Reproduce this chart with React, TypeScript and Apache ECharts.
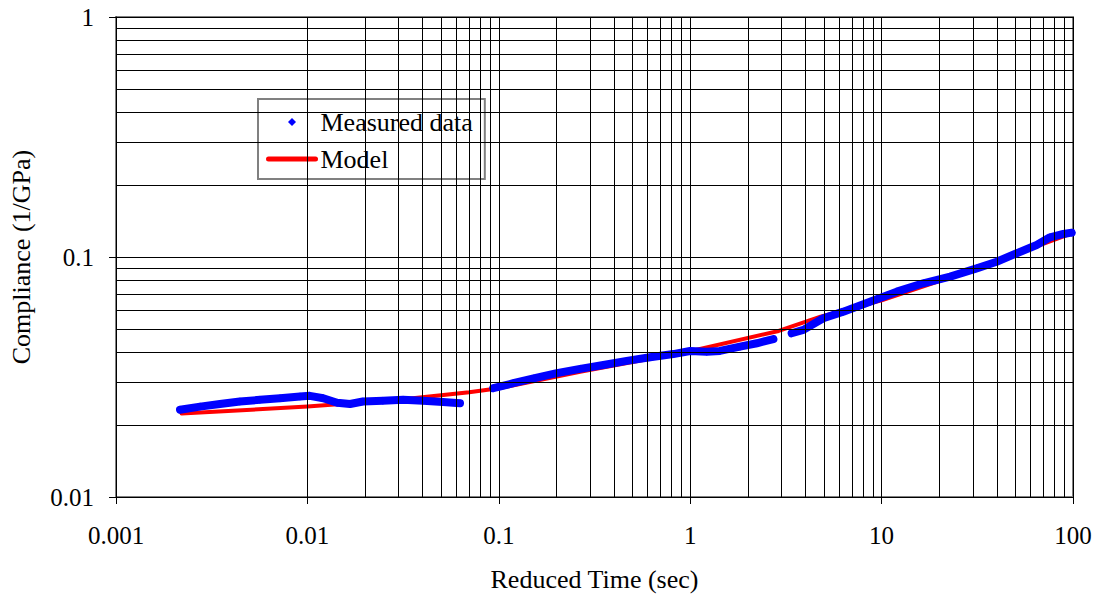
import React, { useEffect, useRef } from "react";
import * as echarts from "echarts";

// ---- data ----
const xTickLabels = ["0.001", "0.01", "0.1", "1", "10", "100"];
const yTickLabels = ["0.01", "0.1", "1"];

const measuredSeg1X = [0.00216, 0.00275, 0.00349, 0.00444, 0.00565, 0.00719, 0.00915, 0.0103, 0.0121, 0.0143, 0.0167, 0.0195, 0.0248, 0.0316, 0.0402, 0.0511, 0.0627];
const measuredSeg1Y = [0.0231, 0.0238, 0.0244, 0.025, 0.0254, 0.0258, 0.0262, 0.0264, 0.0258, 0.0247, 0.0244, 0.025, 0.0252, 0.0254, 0.0252, 0.0249, 0.0246];

const measuredSeg2X = [0.0936, 0.119, 0.152, 0.201, 0.266, 0.352, 0.466, 0.617, 0.816, 0.998, 1.22, 1.43, 1.82, 2.23, 2.72];
const measuredSeg2Y = [0.0284, 0.0298, 0.0312, 0.0328, 0.0342, 0.0355, 0.0369, 0.0382, 0.0394, 0.0406, 0.0403, 0.0406, 0.0423, 0.0437, 0.0455];

const measuredSeg3X = [3.39, 3.9, 4.96, 6.31, 8.7, 12.0, 16.5, 22.8, 31.4, 39.9, 50.8, 64.6, 75.8, 89.0, 98.4];
const measuredSeg3Y = [0.0481, 0.0497, 0.0556, 0.0592, 0.0651, 0.0717, 0.0777, 0.0828, 0.0897, 0.0956, 0.1036, 0.1122, 0.1208, 0.1247, 0.1263];

const modelX = [0.0022, 0.01, 0.03, 0.07, 0.1, 0.27, 1, 2.9, 4.8, 10, 30, 100];
const modelY = [0.0223, 0.0238, 0.0254, 0.0273, 0.0284, 0.0333, 0.0405, 0.0492, 0.0564, 0.066, 0.0885, 0.126];

const xDecades = [0.001, 0.01, 0.1, 1, 10];
const yDecades = [0.01, 0.1];
const minorMultipliers = [2, 3, 4, 5, 6, 7, 8, 9];

const FONT = "Liberation Serif";

function pairs(xs: number[], ys: number[]) {
  return xs.map((x, i) => [x, ys[i]]);
}

// legend icon: a small diamond centred in a 47x8 box (corner moveTos fix the box)
const DIAMOND_ICON = "path://M0,0 M47,8 M23.5,0 L27.5,4 L23.5,8 L19.5,4 Z";

export default function App() {
  const ref = useRef<HTMLDivElement>(null);

  useEffect(() => {
    if (!ref.current) return;
    const chart = echarts.init(ref.current, undefined, { renderer: "svg" });

    const minorX: any[] = [];
    xDecades.forEach((d) => minorMultipliers.forEach((m) => minorX.push({ xAxis: +(d * m).toPrecision(6) })));
    const minorY: any[] = [];
    yDecades.forEach((d) => minorMultipliers.forEach((m) => minorY.push({ yAxis: +(d * m).toPrecision(6) })));

    const labelFor = (labels: string[], minExp: number) => (v: number) => {
      const e = Math.round(Math.log10(v));
      return labels[e - minExp] ?? "";
    };

    const measuredStyle = {
      type: "line",
      name: "Measured data",
      symbol: "diamond",
      symbolSize: 8,
      showSymbol: true,
      lineStyle: { color: "#0000ff", width: 8, cap: "round", join: "round" },
      itemStyle: { color: "#0000ff" },
      z: 4,
      silent: true,
    };

    chart.setOption({
      animation: false,
      backgroundColor: "#ffffff",
      textStyle: { fontFamily: FONT, color: "#000" },
      grid: {
        left: 116,
        right: 24,
        top: 17,
        bottom: 101,
        show: true,
        borderColor: "#808080",
        borderWidth: 2,
        backgroundColor: "#ffffff",
      },
      legend: {
        orient: "vertical",
        left: 258,
        top: 99,
        padding: [10, 12, 7, 8],
        itemGap: 11,
        itemWidth: 47,
        itemHeight: 8,
        backgroundColor: "#ffffff",
        borderColor: "#808080",
        borderWidth: 2,
        selectedMode: false,
        textStyle: { fontFamily: FONT, fontSize: 26, color: "#000" },
        data: [
          { name: "Measured data", icon: DIAMOND_ICON, itemStyle: { color: "#0000ff" } },
          { name: "Model", itemStyle: { opacity: 0 }, lineStyle: { width: 5, cap: "round" } },
        ],
      },
      xAxis: {
        type: "log",
        logBase: 10,
        min: 0.001,
        max: 100,
        name: "Reduced Time (sec)",
        nameLocation: "middle",
        nameGap: 69,
        nameTextStyle: { fontFamily: FONT, fontSize: 26, color: "#000" },
        axisLine: { show: true, onZero: false, lineStyle: { color: "#000", width: 1 } },
        axisTick: { show: true, inside: false, length: 7, lineStyle: { color: "#000" } },
        axisLabel: {
          margin: 26,
          fontFamily: FONT,
          fontSize: 25,
          color: "#000",
          formatter: labelFor(xTickLabels, -3),
        },
        splitLine: { show: true, lineStyle: { color: "#000", width: 1 } },
      },
      yAxis: {
        type: "log",
        logBase: 10,
        min: 0.01,
        max: 1,
        name: "Compliance (1/GPa)",
        nameLocation: "middle",
        nameGap: 82,
        nameTextStyle: { fontFamily: FONT, fontSize: 26, color: "#000" },
        axisLine: { show: true, onZero: false, lineStyle: { color: "#000", width: 1 } },
        axisTick: { show: true, inside: false, length: 7, lineStyle: { color: "#000" } },
        axisLabel: {
          margin: 22,
          fontFamily: FONT,
          fontSize: 25,
          color: "#000",
          formatter: labelFor(yTickLabels, -2),
        },
        splitLine: { show: true, lineStyle: { color: "#000", width: 1 } },
      },
      series: [
        {
          type: "line",
          name: "grid-minor",
          data: [],
          silent: true,
          z: 1,
          markLine: {
            silent: true,
            symbol: "none",
            label: { show: false },
            lineStyle: { type: "solid", color: "#000", width: 1 },
            emphasis: { disabled: true },
            data: [...minorX, ...minorY],
          },
        },
        {
          type: "line",
          name: "Model",
          data: pairs(modelX, modelY),
          symbol: "none",
          showSymbol: false,
          lineStyle: { color: "#ff0000", width: 4, cap: "round", join: "round" },
          itemStyle: { color: "#ff0000" },
          z: 3,
          silent: true,
        },
        { ...measuredStyle, data: pairs(measuredSeg1X, measuredSeg1Y) },
        { ...measuredStyle, data: pairs(measuredSeg2X, measuredSeg2Y) },
        { ...measuredStyle, data: pairs(measuredSeg3X, measuredSeg3Y) },
      ],
    });

    return () => chart.dispose();
  }, []);

  return (
    <div
      ref={ref}
      style={{ position: "absolute", left: 0, top: 0, width: 1097, height: 598 }}
    />
  );
}
